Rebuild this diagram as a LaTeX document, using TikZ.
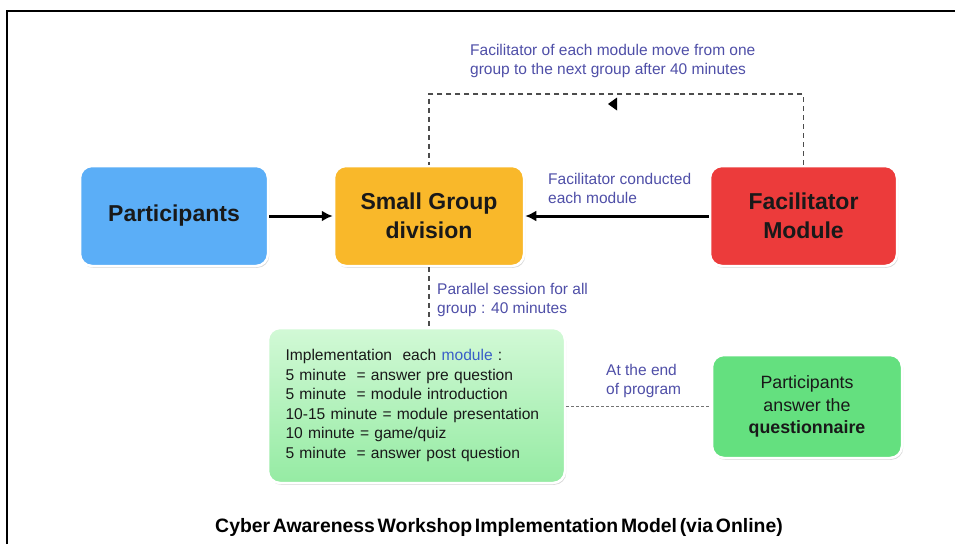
\documentclass[tikz,border=0pt]{standalone}
\usepackage{fontspec}
\setmainfont{Liberation Sans}
\usetikzlibrary{shadows,arrows.meta}
\definecolor{cblue}{HTML}{5BAEF7}
\definecolor{corange}{HTML}{F9B82A}
\definecolor{cred}{HTML}{EC3B3B}
\definecolor{cgreen}{HTML}{64E07F}
\definecolor{cgreenT}{HTML}{D2F9D6}
\definecolor{cgreenB}{HTML}{95EBA3}
\definecolor{clabel}{HTML}{4F4FA8}
\definecolor{cmod}{HTML}{3A5FC8}
\tikzset{
  box/.style={rounded corners=12pt, draw=white, line width=2.5pt,
    drop shadow={shadow xshift=1.2pt,shadow yshift=-1.8pt,fill=black!30},
    align=center, inner sep=0pt, text=black!90},
  bigtxt/.style={font=\fontsize{23}{29}\selectfont\bfseries},
  lbl/.style={text=clabel, font=\fontsize{15.5}{19.5}\selectfont, align=left, inner sep=0pt},
  flow/.style={line width=3pt, -{Latex[length=11pt,width=11pt]}},
  dashline/.style={dashed, dash pattern=on 5pt off 4pt, line width=1.3pt, draw=black!70},
  dotline/.style={dashed, dash pattern=on 3pt off 2pt, line width=1.2pt, draw=black!55}
}
\begin{document}
\begin{tikzpicture}[x=1pt,y=-1pt]
\useasboundingbox (0,0) rectangle (955,544);
\fill[white] (0,0) rectangle (955,544);
% frame
\draw[line width=2.5pt] (7,544) -- (7,11) -- (955,11);

% boxes
\node[box, fill=cblue, minimum width=188pt, minimum height=100pt, bigtxt] (part) at (174,216) {Participants};
\node[box, fill=corange, minimum width=190pt, minimum height=100pt, bigtxt] (sgd) at (429,216) {Small Group\\division};
\node[box, fill=cred, minimum width=187pt, minimum height=100pt, bigtxt] (fac) at (803.5,216) {Facilitator\\Module};
\node[box, top color=cgreenT, bottom color=cgreenB, minimum width=297pt, minimum height=155pt,
  text width=262pt, align=left, font=\fontsize{15.6}{19.6}\selectfont] (impl) at (416.5,405.5)
  {Implementation\ \ each {\color{cmod}module} :\\
   5 minute\ \ = answer pre question\\
   5 minute\ \ = module introduction\\
   10-15 minute = module presentation\\
   10 minute = game/quiz\\
   5 minute\ \ = answer post question};
\node[box, fill=cgreen, minimum width=190pt, minimum height=103pt, font=\fontsize{17.8}{22.5}\selectfont] (quest) at (807,406.5)
  {Participants\\answer the\\\textbf{questionnaire}};

% connectors
\draw[flow] (part.east) -- (sgd.west);
\draw[flow] (fac.west) -- (sgd.east);
\coordinate (top) at (617,94);
\draw[dashline] (fac.north) |- (top) -| (sgd.north);
\fill (608,104) -- (617,97.5) -- (617,110.5) -- cycle;
\draw[dashline] (sgd.south) -- (impl.north -| sgd.south);
\draw[dotline] (impl.east |- quest.west) -- (quest.west);

% labels
\node[lbl, anchor=north west] (l1) at (470,44) {Facilitator of each module move from one\\group to the next group after 40 minutes};
\node[lbl, anchor=north west] (l2) at (548,173) {Facilitator conducted\\each module};
\node[lbl, anchor=north west] (l3) at (437,283) {Parallel session for all\\group : 40 minutes};
\node[lbl, anchor=north west] (l4) at (606,364) {At the end\\of program};

% caption
\node[font=\fontsize{19.4}{22}\selectfont\bfseries, inner sep=0pt] (cap) at (499,527)
  {\spaceskip=0.14em Cyber Awareness Workshop Implementation Model (via Online)};
\end{tikzpicture}
\end{document}
